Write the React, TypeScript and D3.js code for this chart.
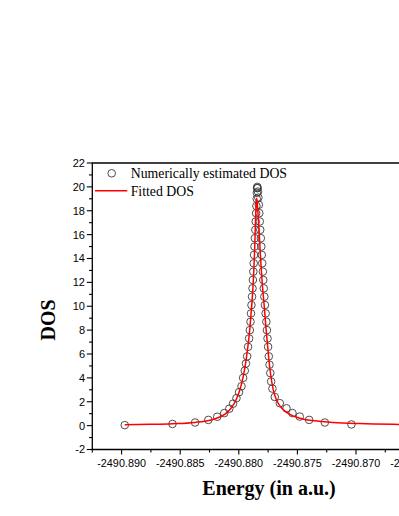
import React from "react";
import * as d3 from "d3";

// Numerically estimated DOS (circles)
const estEnergy: number[] = [
  -2490.88973, -2490.88566, -2490.88373, -2490.8826, -2490.88184, -2490.88124, -2490.88081,
  -2490.88049, -2490.8802, -2490.87998, -2490.87977, -2490.87963, -2490.87949, -2490.87939,
  -2490.87929, -2490.87921, -2490.87912, -2490.87906, -2490.879, -2490.87896, -2490.87892,
  -2490.87887, -2490.87883, -2490.8788, -2490.87876, -2490.87873, -2490.8787, -2490.87866,
  -2490.87863, -2490.87859, -2490.87856, -2490.87852, -2490.8785, -2490.87847, -2490.87846,
  -2490.87844, -2490.87842, -2490.8784, -2490.87836, -2490.87833, -2490.87829, -2490.87825,
  -2490.87821, -2490.87817, -2490.87812, -2490.87808, -2490.87804, -2490.878, -2490.87795,
  -2490.87791, -2490.87787, -2490.87782, -2490.87777, -2490.87771, -2490.87765, -2490.8776,
  -2490.87755, -2490.8775, -2490.87744, -2490.87738, -2490.87731, -2490.87724, -2490.87713,
  -2490.87693, -2490.8765, -2490.87593, -2490.87542, -2490.8748, -2490.874, -2490.87266,
  -2490.87039,
];
const estDOS: number[] = [
  0.04, 0.14, 0.26, 0.48, 0.74, 1.05, 1.42,
  1.84, 2.3, 2.8, 3.3, 4.0, 4.6, 5.2,
  5.8, 6.6, 7.3, 8.0, 8.7, 9.4, 10.1,
  10.8, 11.5, 12.2, 12.9, 13.6, 14.3, 15.0,
  15.7, 16.4, 17.1, 17.8, 18.4, 19.0, 19.5,
  19.9, 20.0, 19.9, 19.6, 19.1, 18.5, 17.8,
  17.1, 16.4, 15.7, 15.0, 14.3, 13.6, 12.9,
  12.2, 11.5, 10.8, 10.1, 9.4, 8.7, 8.0,
  7.3, 6.6, 5.8, 5.1, 4.4, 3.7, 3.1,
  2.4, 1.88, 1.45, 1.05, 0.76, 0.48, 0.26,
  0.1,
];

// Fitted DOS (red line)
const fitEnergy: number[] = [
  -2490.88973, -2490.88759, -2490.88566, -2490.88375, -2490.88247, -2490.88162, -2490.88094,
  -2490.88043, -2490.88004, -2490.87974, -2490.87949, -2490.87928, -2490.8791, -2490.87896,
  -2490.87883, -2490.87872, -2490.87864, -2490.87858, -2490.87853, -2490.87848, -2490.87842,
  -2490.87834, -2490.87825, -2490.87817, -2490.87808, -2490.878, -2490.87791, -2490.87782,
  -2490.8777, -2490.87757, -2490.87744, -2490.87727, -2490.87706, -2490.87676, -2490.87633,
  -2490.87565, -2490.8748, -2490.87352, -2490.87198, -2490.86968, -2490.86635, -2490.86251,
];
const fitDOS: number[] = [
  0.08, 0.11, 0.16, 0.27, 0.45, 0.72, 1.15,
  1.8, 2.6, 3.6, 4.8, 6.2, 7.7, 9.3,
  11.0, 13.0, 15.0, 17.0, 18.4, 19.05, 18.6,
  17.4, 16.0, 14.5, 13.1, 11.9, 10.9, 9.9,
  8.4, 7.0, 5.6, 4.2, 3.0, 2.1, 1.45,
  0.95, 0.62, 0.4, 0.27, 0.17, 0.1, 0.06,
];

const xTickValues: number[] = [-2490.89, -2490.885, -2490.88, -2490.875, -2490.87, -2490.865];
const xTickLabels: string[] = ["-2490.890", "-2490.885", "-2490.880", "-2490.875", "-2490.870", "-2490.865"];
const yTickValues: number[] = [-2, 0, 2, 4, 6, 8, 10, 12, 14, 16, 18, 20, 22];

const xDomain: [number, number] = [-2490.8925, -2490.8625];
const yDomain: [number, number] = [-2, 22];

export default function App() {
  const W = 399;
  const H = 516;
  const left = 92.3;
  const right = 443.9;
  const top = 163;
  const bottom = 449.5;

  const x = d3.scaleLinear().domain(xDomain).range([left, right]);
  const y = d3.scaleLinear().domain(yDomain).range([bottom, top]);

  const fitPts = fitEnergy.map((e, i) => [e, fitDOS[i]] as [number, number]);
  const line = d3
    .line<[number, number]>()
    .x((d) => x(d[0]))
    .y((d) => y(d[1]))
    .curve(d3.curveMonotoneX);

  const xMinor: number[] = [];
  for (let i = 0; i < xTickValues.length; i++) xMinor.push(xTickValues[i] - 0.0025);
  xMinor.push(xTickValues[xTickValues.length - 1] + 0.0025);
  const yMinor: number[] = yTickValues.slice(0, -1).map((v) => v + 1);

  const sans = "'Liberation Sans', Arial, sans-serif";
  const serif = "'Liberation Serif', 'Times New Roman', serif";

  return (
    <svg
      width={W}
      height={H}
      style={{ position: "absolute", left: 0, top: 0, background: "#fff" }}
    >
      <defs>
        <clipPath id="plotClip">
          <rect x={left} y={top} width={right - left} height={bottom - top} />
        </clipPath>
      </defs>
      <rect x={0} y={0} width={W} height={H} fill="#fff" />

      {/* circles */}
      <g>
        {estEnergy.map((e, i) => (
          <circle
            key={i}
            cx={x(e)}
            cy={y(estDOS[i])}
            r={3.8}
            fill="none"
            stroke="#3a3a3a"
            strokeWidth={0.9}
          />
        ))}
      </g>

      {/* fitted line */}
      <path
        d={line(fitPts) || ""}
        fill="none"
        stroke="#ff0000"
        strokeWidth={1.5}
        clipPath="url(#plotClip)"
      />

      {/* frame */}
      <line x1={left} x2={right} y1={top} y2={top} stroke="#000" strokeWidth={1.3} />
      <line x1={right} x2={right} y1={top} y2={bottom} stroke="#000" strokeWidth={1.3} />
      <line x1={left} x2={left} y1={top - 0.6} y2={bottom + 0.6} stroke="#000" strokeWidth={1.3} />
      <line x1={left - 0.6} x2={right} y1={bottom} y2={bottom} stroke="#000" strokeWidth={1.3} />

      {/* x ticks */}
      {xTickValues.map((v, i) => (
        <g key={"xt" + i}>
          <line x1={x(v)} x2={x(v)} y1={bottom} y2={bottom + 5} stroke="#000" strokeWidth={1.1} />
          <text
            x={x(v)}
            y={467}
            textAnchor="middle"
            fontFamily={sans}
            fontSize={10.8}
            fill="#000"
          >
            {xTickLabels[i]}
          </text>
        </g>
      ))}
      {xMinor.map((v, i) => (
        <line key={"xm" + i} x1={x(v)} x2={x(v)} y1={bottom} y2={bottom + 3} stroke="#000" strokeWidth={1.1} />
      ))}

      {/* y ticks */}
      {yTickValues.map((v, i) => (
        <g key={"yt" + i}>
          <line x1={left - 5.5} x2={left} y1={y(v)} y2={y(v)} stroke="#000" strokeWidth={1.1} />
          <text
            x={85}
            y={y(v)}
            dy="0.36em"
            textAnchor="end"
            fontFamily={sans}
            fontSize={11}
            fill="#000"
          >
            {v}
          </text>
        </g>
      ))}
      {yMinor.map((v, i) => (
        <line key={"ym" + i} x1={left - 3.3} x2={left} y1={y(v)} y2={y(v)} stroke="#000" strokeWidth={1.1} />
      ))}

      {/* legend */}
      <circle cx={111.7} cy={173.3} r={3.8} fill="none" stroke="#3a3a3a" strokeWidth={0.9} />
      <text x={130.7} y={177.5} fontFamily={serif} fontSize={13.8} fill="#000">
        Numerically estimated DOS
      </text>
      <line x1={95} x2={127.3} y1={190.7} y2={190.7} stroke="#ff0000" strokeWidth={1.5} />
      <text x={130.7} y={196} fontFamily={serif} fontSize={13.8} fill="#000">
        Fitted DOS
      </text>

      {/* axis titles */}
      <text
        transform="translate(55,320) rotate(-90)"
        textAnchor="middle"
        fontFamily={serif}
        fontWeight="bold"
        fontSize={20}
        fill="#000"
      >
        DOS
      </text>
      <text
        x={269}
        y={494.5}
        textAnchor="middle"
        fontFamily={serif}
        fontWeight="bold"
        fontSize={20}
        fill="#000"
      >
        Energy (in a.u.)
      </text>
    </svg>
  );
}
